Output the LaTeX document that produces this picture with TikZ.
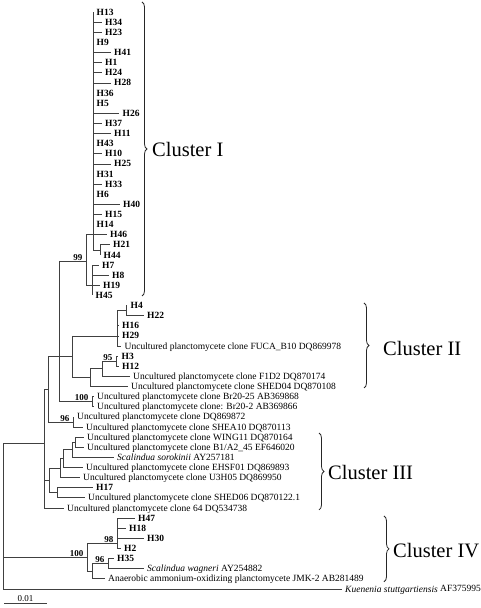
\documentclass[tikz,border=0pt]{standalone}
\usepackage{fontspec}
\setmainfont{Liberation Serif}
\usetikzlibrary{decorations.pathreplacing}
\tikzstyle{branch} = [draw=black!75, line width=0.6pt]
\tikzstyle{leaf} = [anchor=west, inner sep=0pt, xshift=3.5pt,
text height=6.3pt, text depth=0pt,
font=\fontsize{9.5}{10}\selectfont]
\tikzstyle{hap} = [leaf, font=\fontsize{9.5}{10}\selectfont\bfseries]
\tikzstyle{boot} = [anchor=south east, inner sep=0.5pt, xshift=-3pt,
font=\fontsize{9}{10}\selectfont\bfseries]
\tikzstyle{brace} = [decorate, decoration={brace, amplitude=5pt}, draw=black!85, line width=0.8pt]
\tikzstyle{cluster} = [anchor=west, inner sep=0pt, font=\fontsize{20.5}{24}\selectfont]

\begin{document}
\begin{tikzpicture}[x=1pt, y=-10.12pt]
\useasboundingbox (0,-1.186) rectangle (480,58.893);

% cluster I
\coordinate (s1) at (93,22);
\coordinate (n2144) at (100,23.5);
\coordinate (s2) at (92,27);
\coordinate (n99) at (86,24.6);
\node[hap] (H13) at (93,0) {H13};
\node[hap] (H34) at (101.5,1) {H34};
\node[hap] (H23) at (101.5,2) {H23};
\node[hap] (H9) at (93,3) {H9};
\node[hap] (H41) at (110.5,4) {H41};
\node[hap] (H1) at (101.5,5) {H1};
\node[hap] (H24) at (101.5,6) {H24};
\node[hap] (H28) at (110.5,7) {H28};
\node[hap] (H36) at (93,8) {H36};
\node[hap] (H5) at (93,9) {H5};
\node[hap] (H26) at (119,10) {H26};
\node[hap] (H37) at (101.5,11) {H37};
\node[hap] (H11) at (110.5,12) {H11};
\node[hap] (H43) at (93,13) {H43};
\node[hap] (H10) at (101.5,14) {H10};
\node[hap] (H25) at (110.5,15) {H25};
\node[hap] (H31) at (93,16) {H31};
\node[hap] (H33) at (101.5,17) {H33};
\node[hap] (H6) at (93,18) {H6};
\node[hap] (H40) at (119.5,19) {H40};
\node[hap] (H15) at (101.5,20) {H15};
\node[hap] (H14) at (93,21) {H14};
\node[hap] (H46) at (106.5,22) {H46};
\node[hap] (H21) at (109.5,23) {H21};
\node[hap] (H44) at (100,24) {H44};
\node[hap] (H7) at (98.5,25) {H7};
\node[hap] (H8) at (108.5,26) {H8};
\node[hap] (H19) at (99.5,27) {H19};
\node[hap] (H45) at (92,28) {H45};

\draw[branch] (s1 |- H13) -- (s1 |- n2144);
\foreach \h in {H34,H23,H41,H1,H24,H28,H26,H37,H11,H10,H25,H33,H40,H15,H46}
  \draw[branch] (s1 |- \h) -- ([xshift=-3.5pt]\h.west);
\draw[branch] (s1 |- n2144) -- (n2144);
\draw[branch] (n2144 |- H21) -- (n2144 |- H44);
\draw[branch] (n2144 |- H21) -- ([xshift=-3.5pt]H21.west);
\draw[branch] (s2 |- H7) -- (s2 |- H45);
\foreach \h in {H7,H8,H19}
  \draw[branch] (s2 |- \h) -- ([xshift=-3.5pt]\h.west);
\draw[branch] (n99 |- s1) -- (n99 |- s2);
\draw[branch] (n99 |- s1) -- (s1);
\draw[branch] (n99 |- s2) -- (s2);
\node[boot] at (n99) {99};

% cluster II
\coordinate (nh4) at (126,29.5);
\coordinate (p1) at (117,32);
\coordinate (n95) at (116,34.5);
\coordinate (q) at (102,35.25);
\coordinate (p2) at (90,36.1);
\coordinate (c2) at (72,34);
\node[hap] (H4) at (127,29) {H4};
\node[hap] (H22) at (143.5,30) {H22};
\node[hap] (H16) at (118.5,31) {H16};
\node[hap] (H29) at (118.5,32) {H29};
\node[leaf] (fuca) at (121,33) {Uncultured planctomycete clone FUCA\_B10 DQ869978};
\node[hap] (H3) at (118,34) {H3};
\node[hap] (H12) at (118.5,35) {H12};
\node[leaf] (f1d2) at (129.5,36) {Uncultured planctomycete clone F1D2 DQ870174};
\node[leaf] (shed04) at (127.5,37) {Uncultured planctomycete clone SHED04 DQ870108};

\draw[branch] (nh4 |- H4) -- (nh4 |- H22);
\draw[branch] (nh4 |- H4) -- ([xshift=-3.5pt]H4.west);
\draw[branch] (nh4 |- H22) -- ([xshift=-3.5pt]H22.west);
\draw[branch] (p1 |- nh4) -- (p1 |- fuca);
\draw[branch] (p1 |- nh4) -- (nh4);
\foreach \h in {H16,H29,fuca}
  \draw[branch] (p1 |- \h) -- ([xshift=-3.5pt]\h.west);
\draw[branch] (n95 |- H3) -- (n95 |- H12);
\foreach \h in {H3,H12}
  \draw[branch] (n95 |- \h) -- ([xshift=-3.5pt]\h.west);
\draw[branch] (q |- n95) -- (q |- f1d2);
\draw[branch] (q |- n95) -- (n95);
\draw[branch] (q |- f1d2) -- ([xshift=-3.5pt]f1d2.west);
\node[boot] at (n95) {95};
\draw[branch] (p2 |- q) -- (p2 |- shed04);
\draw[branch] (p2 |- q) -- (q);
\draw[branch] (p2 |- shed04) -- ([xshift=-3.5pt]shed04.west);
\draw[branch] (c2 |- p1) -- (c2 |- p2);
\draw[branch] (c2 |- p1) -- (p1);
\draw[branch] (c2 |- p2) -- (p2);

% Br20 and 96
\coordinate (br20) at (92,38.5);
\coordinate (n3) at (59,34);
\coordinate (n96) at (73,40.5);
\coordinate (n2) at (48,37.3);
\node[leaf] (br2025) at (93.5,38) {Uncultured planctomycete clone Br20-25 AB369868};
\node[leaf] (br202) at (93.5,39) {Uncultured planctomycete clone: Br20-2 AB369866};
\node[leaf] (dq869872) at (73.5,40) {Uncultured planctomycete clone DQ869872};
\node[leaf] (shea10) at (82.5,41) {Uncultured planctomycete clone SHEA10 DQ870113};

\draw[branch] (br20 |- br2025) -- (br20 |- br202);
\foreach \h in {br2025,br202}
  \draw[branch] (br20 |- \h) -- ([xshift=-3.5pt]\h.west);
\node[boot] at (br20) {100};
\draw[branch] (n3 |- n99) -- (n3 |- br20);
\draw[branch] (n3 |- n99) -- (n99);
\draw[branch] (n3 |- c2) -- (c2);
\draw[branch] (n3 |- br20) -- (br20);
\draw[branch] (n96 |- dq869872) -- (n96 |- shea10);
\foreach \h in {dq869872,shea10}
  \draw[branch] (n96 |- \h) -- ([xshift=-3.5pt]\h.west);
\node[boot] at (n96) {96};
\draw[branch] (n2 |- n3) -- (n2 |- n96);
\draw[branch] (n2 |- n3) -- (n3);
\draw[branch] (n2 |- n96) -- (n96);

% cluster III
\coordinate (wb) at (75,42.5);
\coordinate (nws) at (72,43.25);
\coordinate (ne) at (63,44.1);
\coordinate (nu) at (60,45.05);
\coordinate (nh17) at (57,47.5);
\coordinate (c3) at (49,46.3);
\coordinate (n1) at (44,42.6);
\node[leaf] (wing11) at (83.5,42) {Uncultured planctomycete clone WING11 DQ870164};
\node[leaf] (b1a2) at (83.5,43) {Uncultured planctomycete clone B1/A2\_45 EF646020};
\node[leaf] (sorokinii) at (113.5,44) {\textit{Scalindua sorokinii} AY257181};
\node[leaf] (ehsf01) at (82.5,45) {Uncultured planctomycete clone EHSF01 DQ869893};
\node[leaf] (u3h05) at (79.5,46) {Uncultured planctomycete clone U3H05 DQ869950};
\node[hap] (H17) at (92.5,47) {H17};
\node[leaf] (shed06) at (84.5,48) {Uncultured planctomycete clone SHED06 DQ870122.1};
\node[leaf] (clone64) at (63.5,49) {Uncultured planctomycete clone 64 DQ534738};

\draw[branch] (wb |- wing11) -- (wb |- b1a2);
\foreach \h in {wing11,b1a2}
  \draw[branch] (wb |- \h) -- ([xshift=-3.5pt]\h.west);
\draw[branch] (nws |- wb) -- (nws |- sorokinii);
\draw[branch] (nws |- wb) -- (wb);
\draw[branch] (nws |- sorokinii) -- ([xshift=-3.5pt]sorokinii.west);
\draw[branch] (ne |- nws) -- (ne |- ehsf01);
\draw[branch] (ne |- nws) -- (nws);
\draw[branch] (ne |- ehsf01) -- ([xshift=-3.5pt]ehsf01.west);
\draw[branch] (nu |- ne) -- (nu |- u3h05);
\draw[branch] (nu |- ne) -- (ne);
\draw[branch] (nu |- u3h05) -- ([xshift=-3.5pt]u3h05.west);
\draw[branch] (nh17 |- H17) -- (nh17 |- shed06);
\foreach \h in {H17,shed06}
  \draw[branch] (nh17 |- \h) -- ([xshift=-3.5pt]\h.west);
\draw[branch] (c3 |- nu) -- (c3 |- nh17);
\draw[branch] (c3 |- nu) -- (nu);
\draw[branch] (c3 |- nh17) -- (nh17);
\draw[branch] (n1 |- n2) -- (n1 |- clone64);
\draw[branch] (n1 |- n2) -- (n2);
\draw[branch] (n1 |- c3) -- (c3);
\draw[branch] (n1 |- clone64) -- ([xshift=-3.5pt]clone64.west);

% cluster IV
\coordinate (n98) at (117,52.5);
\coordinate (n96b) at (108,54.5);
\coordinate (lo) at (92,55.25);
\coordinate (c4) at (87,53.9);
\coordinate (root) at (3,53.9);
\node[hap] (H47) at (134.5,50) {H47};
\node[hap] (H18) at (125.5,51) {H18};
\node[hap] (H30) at (143.5,52) {H30};
\node[hap] (H2) at (120.5,53) {H2};
\node[hap] (H35) at (113.5,54) {H35};
\node[leaf] (wagneri) at (143.5,55) {\textit{Scalindua wagneri} AY254882};
\node[leaf] (jmk2) at (104.5,56) {Anaerobic ammonium-oxidizing planctomycete JMK-2 AB281489};
\node[leaf] (kuenenia) at (341.5,57) {\textit{Kuenenia stuttgartiensis} AF375995};

\draw[branch] (n98 |- H47) -- (n98 |- H2);
\foreach \h in {H47,H18,H30,H2}
  \draw[branch] (n98 |- \h) -- ([xshift=-3.5pt]\h.west);
\draw[branch] (n96b |- H35) -- (n96b |- wagneri);
\foreach \h in {H35,wagneri}
  \draw[branch] (n96b |- \h) -- ([xshift=-3.5pt]\h.west);
\node[boot] at (n96b) {96};
\draw[branch] (lo |- n96b) -- (lo |- jmk2);
\draw[branch] (lo |- n96b) -- (n96b);
\draw[branch] (lo |- jmk2) -- ([xshift=-3.5pt]jmk2.west);
\draw[branch] (c4 |- n98) -- (c4 |- lo);
\draw[branch] (c4 |- n98) -- (n98);
\draw[branch] (c4 |- lo) -- (lo);
\node[boot] at (n98) {98};
\draw[branch] (root |- n1) -- (root |- kuenenia);
\draw[branch] (root |- n1) -- (n1);
\draw[branch] (root) -- (c4);
\node[boot] at (c4) {100};
\draw[branch] (root |- kuenenia) -- ([xshift=-3.5pt]kuenenia.west);

% braces
\draw[brace] (142,-0.99) -- (142,28.06);
\node[cluster] (cl1) at (152,13.6) {Cluster I};
\draw[brace] (364,28.75) -- (364,37.15);
\node[cluster] (cl2) at (383,33.2) {Cluster II};
\draw[brace] (319,41.6) -- (319,49.2);
\node[cluster] (cl3) at (328,45.5) {Cluster III};
\draw[brace] (384,49.8) -- (384,56.3);
\node[cluster] (cl4) at (393,53.2) {Cluster IV};

% scale
\coordinate (sb1) at (4,58.4);
\coordinate (sb2) at (47,58.4);
\draw[branch] (sb1) -- node[above, inner sep=1.5pt, font=\fontsize{9}{10}\selectfont] {0.01} (sb2);
\end{tikzpicture}
\end{document}
